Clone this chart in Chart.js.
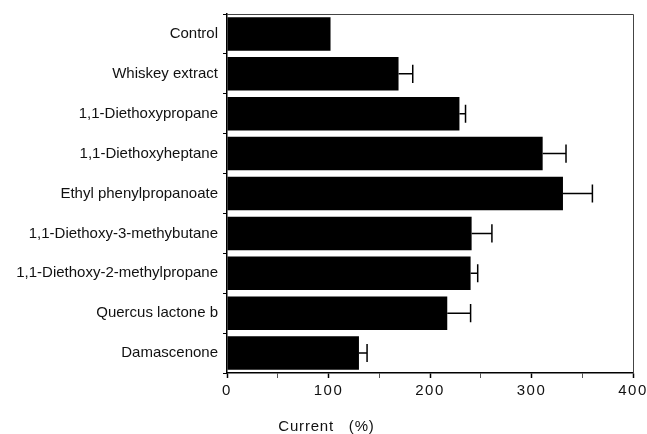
<!DOCTYPE html>
<html>
<head>
<meta charset="utf-8">
<script src="https://cdn.jsdelivr.net/npm/chart.js@4/dist/chart.umd.min.js"></script>
<style>
html,body{margin:0;padding:0;background:#fff;}
#wrap{width:647px;height:434px;position:relative;}
</style>
</head>
<body>
<div id="wrap"><canvas id="c" width="647" height="434"></canvas></div>
<script>
const categories = [
  "Control",
  "Whiskey extract",
  "1,1-Diethoxypropane",
  "1,1-Diethoxyheptane",
  "Ethyl phenylpropanoate",
  "1,1-Diethoxy-3-methybutane",
  "1,1-Diethoxy-2-methylpropane",
  "Quercus lactone b",
  "Damascenone"
];
const values = [102, 169, 229, 311, 331, 241, 240, 217, 130];
const errors = [0, 14, 6, 23, 29, 20, 7, 23, 8];
const xTickLabels = [0, 100, 200, 300, 400];
const xTitle = "Current   (%)";

const FONT = "'Liberation Sans', Arial, Helvetica, sans-serif";

const errorBars = {
  id: 'errorBars',
  afterDatasetsDraw(chart) {
    const ctx = chart.ctx;
    const meta = chart.getDatasetMeta(0);
    const xs = chart.scales.x;
    ctx.save();
    ctx.strokeStyle = '#000';
    ctx.lineWidth = 1.5;
    meta.data.forEach((bar, i) => {
      if (!errors[i]) return;
      const x0 = bar.x;
      const x1 = xs.getPixelForValue(values[i] + errors[i]);
      const half = bar.height * 0.27;
      ctx.beginPath();
      ctx.moveTo(x0, bar.y);
      ctx.lineTo(x1, bar.y);
      ctx.moveTo(x1, bar.y - half);
      ctx.lineTo(x1, bar.y + half);
      ctx.stroke();
    });
    ctx.restore();
  }
};

const spacedXLabels = {
  id: 'spacedXLabels',
  beforeDraw(chart) {
    const xs = chart.scales.x;
    if (xs && !xs._spaced) {
      const orig = xs.drawLabels.bind(xs);
      xs.drawLabels = function (ca) {
        const ctx = chart.ctx;
        ctx.save();
        try { ctx.letterSpacing = '1.5px'; } catch (e) {}
        orig(ca);
        ctx.restore();
      };
      xs._spaced = true;
    }
  }
};

const frame = {
  id: 'frame',
  afterDraw(chart) {
    const ctx = chart.ctx;
    const a = chart.chartArea;
    ctx.save();
    ctx.strokeStyle = '#444';
    ctx.lineWidth = 1;
    ctx.beginPath();
    ctx.moveTo(a.left, a.top + 0.5);
    ctx.lineTo(a.right + 0.5, a.top + 0.5);
    ctx.lineTo(a.right + 0.5, a.bottom);
    ctx.stroke();
    // axis title centred under the 100 tick
    const xs = chart.scales.x;
    ctx.fillStyle = '#111';
    ctx.font = '15px ' + FONT;
    try { ctx.letterSpacing = '0.8px'; } catch (e) {}
    ctx.textAlign = 'center';
    ctx.textBaseline = 'middle';
    ctx.fillText(xTitle, xs.getPixelForValue(98), a.bottom + 54);
    ctx.restore();
  }
};

new Chart(document.getElementById('c'), {
  type: 'bar',
  data: {
    labels: categories,
    datasets: [{
      data: values,
      backgroundColor: '#000',
      borderWidth: 0,
      barPercentage: 0.84,
      categoryPercentage: 1
    }]
  },
  options: {
    indexAxis: 'y',
    responsive: false,
    animation: false,
    devicePixelRatio: 1,
    layout: { padding: { left: 0, right: 14, top: 14, bottom: 0 } },
    plugins: { legend: { display: false }, tooltip: { enabled: false } },
    scales: {
      x: {
        min: 0, max: 400,
        afterFit(s) { s.height = 61; s.paddingRight = 0; s.paddingLeft = 0; },
        ticks: {
          stepSize: 50,
          autoSkip: false,
          maxRotation: 0,
          padding: 4,
          color: '#111',
          font: { family: FONT, size: 15 },
          callback: (v) => xTickLabels.includes(v) ? String(v) : ''
        },
        grid: {
          drawOnChartArea: false, tickLength: 5, color: '#000',
          tickColor: (c) => (c.tick && c.tick.value % 100 === 0) ? '#000' : '#555',
          tickWidth: (c) => (c.tick && c.tick.value % 100 === 0) ? 1.5 : 1
        },
        border: { display: true, color: '#000', width: 1.5 }
      },
      y: {
        afterFit(s) { s.width = 227; },
        ticks: {
          padding: 5,
          color: '#111',
          font: { family: FONT, size: 15 }
        },
        grid: { drawOnChartArea: false, offset: true, tickLength: 4, color: '#000', tickColor: '#000' },
        border: { display: true, color: '#000', width: 1.5 }
      }
    }
  },
  plugins: [spacedXLabels, errorBars, frame]
});
</script>
</body>
</html>
